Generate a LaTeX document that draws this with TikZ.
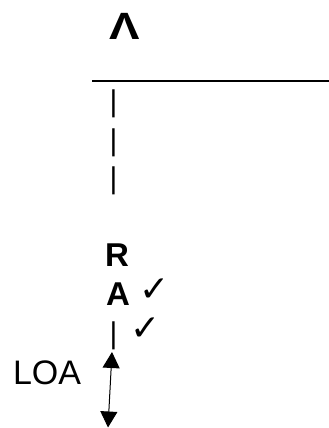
\documentclass[tikz,border=0pt]{standalone}
\usepackage{fontspec}
\setmainfont{Liberation Sans}
\newfontfamily\chkfont{DejaVu Sans}
\usetikzlibrary{arrows.meta}
\tikzset{
  txt/.style={inner sep=0pt, outer sep=0pt, font=\fontsize{34}{34}\selectfont},
  bold/.style={inner sep=0pt, outer sep=0pt, font=\fontsize{33}{33}\selectfont\bfseries},
  chk/.style={inner sep=0pt, outer sep=0pt, font=\fontsize{36}{36}\selectfont\chkfont},
  bar/.style={inner sep=0pt, outer sep=0pt, font=\fontsize{30}{30}\selectfont, anchor=base},
  dbl/.style={{Triangle[length=16pt,width=17pt]}-{Triangle[length=16pt,width=17pt]}, line width=1pt}
}
\begin{document}
\begin{tikzpicture}[x=1pt,y=1pt]
\useasboundingbox (0,0) rectangle (329,428);
\node[inner sep=0pt, anchor=base, font=\fontsize{38}{38}\selectfont\bfseries, xscale=1.2] (lam) at (124.5,388) {Λ};
\coordinate (l1) at (92,347);
\coordinate (l2) at (329,347);
\draw[line width=2pt] (l1) -- (l2);
\node[bar] (p1) at (113.5,316.3) {|};
\node[bar] (p2) at (113.5,277.3) {|};
\node[bar] (p3) at (113.5,239.3) {|};
\node[bold, anchor=base west] (r) at (105,161) {R};
\node[bold, anchor=base west] (a) at (106,122) {A};
\node[chk, anchor=base west] (c1) at (139,126) {✓};
\node[bar] (p4) at (113.5,84.3) {|};
\node[chk, anchor=base west] (c2) at (130,87) {✓};
\node[txt, anchor=base west] (loa) at (13,43) {LOA};
\coordinate (ab) at (108,0.5);
\coordinate (at) at (112,76);
\draw[dbl] (ab) -- (at);
\end{tikzpicture}
\end{document}
